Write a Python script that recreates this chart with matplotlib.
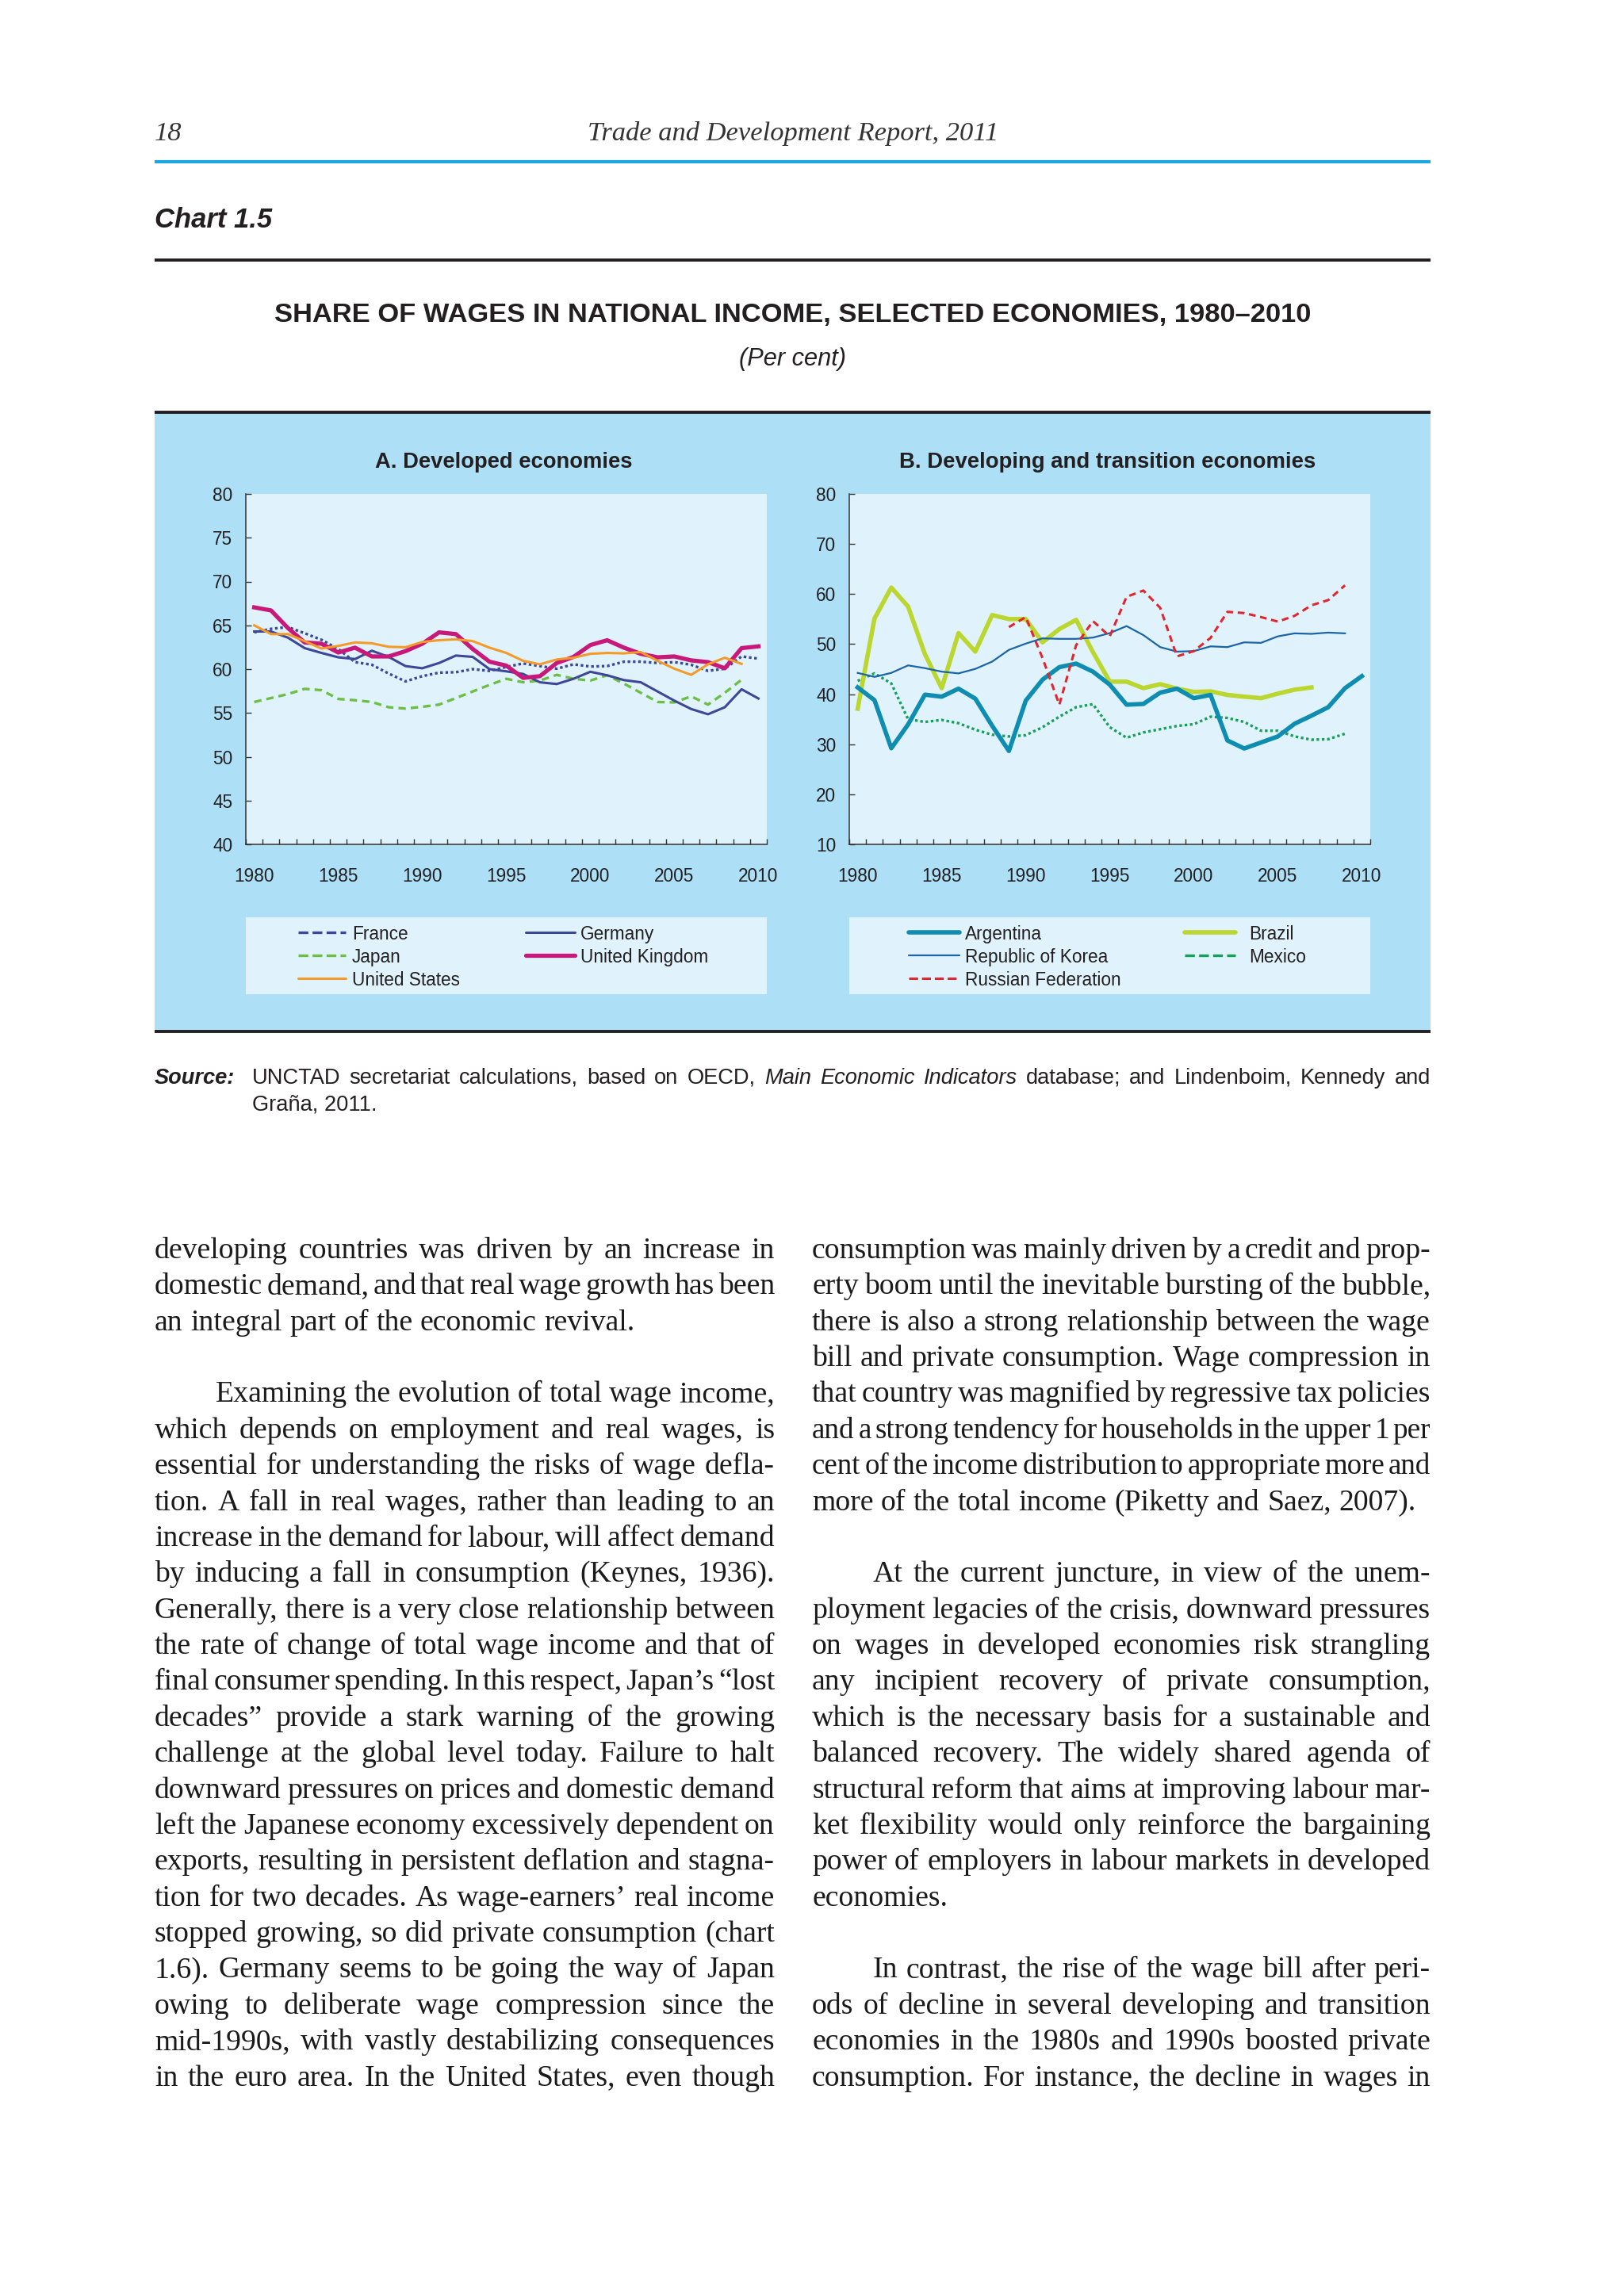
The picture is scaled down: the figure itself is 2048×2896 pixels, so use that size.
import matplotlib
matplotlib.use("Agg")
import matplotlib.pyplot as plt
from matplotlib.patches import Rectangle
from matplotlib.lines import Line2D
import numpy as np

# ---------------- data ----------------
years_full = list(range(1980, 2011))
years_to_2009 = list(range(1980, 2010))
years_to_2007 = list(range(1980, 2008))
years_russia = list(range(1989, 2010))

france = [64.2, 64.6, 64.8, 64.1, 63.35, 62.3, 60.8, 60.5, 59.5, 58.6, 59.2, 59.6, 59.65, 60.0, 59.8,
          60.25, 60.65, 60.35, 60.05, 60.55, 60.3, 60.35, 60.85, 60.85, 60.7, 60.8, 60.5, 59.8, 60.05,
          61.45, 61.2]
germany = [64.3, 64.3, 63.6, 62.4, 61.85, 61.35, 61.15, 62.1, 61.4, 60.35, 60.1, 60.7, 61.55, 61.4, 60.0,
           59.75, 59.45, 58.5, 58.3, 58.9, 59.7, 59.3, 58.75, 58.5, 57.45, 56.4, 55.45, 54.85, 55.65,
           57.7, 56.65]
japan = [56.25, 56.7, 57.15, 57.75, 57.6, 56.6, 56.45, 56.25, 55.65, 55.5, 55.7, 55.95, 56.7, 57.45, 58.2,
         58.9, 58.5, 58.7, 59.35, 58.9, 58.7, 59.3, 58.35, 57.3, 56.25, 56.2, 56.9, 55.95, 57.3, 58.8]
uk = [67.05, 66.7, 64.7, 63.05, 62.9, 61.9, 62.45, 61.45, 61.45, 62.05, 62.9, 64.2, 64.0, 62.3, 60.85,
      60.4, 59.0, 59.2, 60.7, 61.4, 62.75, 63.3, 62.45, 61.75, 61.35, 61.45, 61.0, 60.8, 60.1, 62.4, 62.6]
us = [65.0, 64.0, 64.0, 63.2, 62.35, 62.65, 63.05, 62.95, 62.55, 62.5, 63.1, 63.3, 63.4, 63.2, 62.45,
      61.85, 60.95, 60.55, 61.1, 61.3, 61.75, 61.85, 61.8, 61.95, 60.95, 60.05, 59.35, 60.55, 61.3, 60.6]

argentina = [41.35, 38.8, 29.2, 33.95, 39.9, 39.5, 41.1, 39.1, 33.7, 28.65, 38.7, 42.9, 45.4, 46.1, 44.5,
             41.9, 37.9, 38.05, 40.3, 41.1, 39.2, 39.85, 30.75, 29.15, 30.35, 31.55, 34.1, 35.7, 37.4,
             41.2, 43.6]
brazil = [37.1, 55.1, 61.3, 57.5, 48.0, 41.2, 52.2, 48.5, 55.8, 55.0, 55.0, 50.35, 53.0, 54.85, 48.4,
          42.5, 42.5, 41.2, 42.0, 41.1, 40.45, 40.55, 39.85, 39.5, 39.2, 40.1, 40.9, 41.35]
korea = [44.25, 43.45, 44.25, 45.75, 45.2, 44.5, 44.15, 45.05, 46.5, 48.85, 50.1, 51.15, 51.05, 51.05,
         51.3, 52.2, 53.6, 51.8, 49.4, 48.5, 48.6, 49.55, 49.4, 50.35, 50.25, 51.55, 52.15, 52.05, 52.3,
         52.15]
mexico = [42.65, 44.15, 42.15, 35.0, 34.45, 34.85, 34.2, 32.9, 31.9, 31.55, 31.8, 33.4, 35.5, 37.4, 38.0,
          33.4, 31.3, 32.35, 33.0, 33.65, 34.0, 35.5, 35.25, 34.45, 32.7, 32.7, 31.55, 30.9, 31.0, 32.1]
russia = [53.4, 55.4, 47.2, 37.9, 49.8, 54.6, 51.55, 59.45, 60.7, 57.25, 47.55, 48.6, 51.25, 56.45, 56.2,
          55.4, 54.5, 55.65, 57.75, 58.8, 61.75]

ticks_a = [40, 45, 50, 55, 60, 65, 70, 75, 80]
ticks_b = [10, 20, 30, 40, 50, 60, 70, 80]
year_labels = [1980, 1985, 1990, 1995, 2000, 2005, 2010]

# ---------------- figure helpers ----------------
W, H = 2048, 2896
DPI = 100
fig = plt.figure(figsize=(W / DPI, H / DPI), dpi=DPI)
fig.patch.set_facecolor("white")
renderer = fig.canvas.get_renderer()

SANS = "Liberation Sans"
SERIF = "Liberation Serif"
INK = "#231F20"
BOX = "#ADE0F7"
PLOT = "#E0F3FC"

LM, RM = 195, 1804  # page text block


def fx(x):
    return x / W


def fy(y):
    return 1 - y / H


def txt(x, y, s, **kw):
    kw.setdefault("color", INK)
    return fig.text(fx(x), fy(y), s, **kw)


def wid(t):
    return t.get_window_extent(renderer).width


def fit(x, y, s, width, **kw):
    t = txt(x, y, s, fontsize=20, **kw)
    w = wid(t)
    t.set_fontsize(20 * width / w)
    return t


def hline(x0, x1, y, lw, color):
    fig.add_artist(Line2D([fx(x0), fx(x1)], [fy(y), fy(y)], transform=fig.transFigure,
                          color=color, linewidth=lw, solid_capstyle="butt"))


# ---------------- page header ----------------
hdr = fit(1000, 177, "Trade and Development Report, 2011", 518, family=SERIF, style="italic",
          ha="center", va="baseline", color="#333333")
txt(LM, 177, "18", family=SERIF, style="italic", fontsize=hdr.get_fontsize(), ha="left",
    va="baseline", color="#333333")
hline(LM, RM, 204, 3.0, "#1BA7DF")

fit(LM, 287, "Chart 1.5", 148, family=SANS, weight="bold", style="italic", ha="left", va="baseline")
hline(LM, RM, 328, 2.8, "#231F20")
fit(1000, 406, "SHARE OF WAGES IN NATIONAL INCOME, SELECTED ECONOMIES, 1980\u20132010", 1307,
    family=SANS, weight="bold", ha="center", va="baseline")
fit(1000, 461, "(Per cent)", 135, family=SANS, style="italic", ha="center", va="baseline")

# blue chart box
BOX_TOP, BOX_BOT = 520, 1301
fig.add_artist(Rectangle((fx(LM), fy(BOX_BOT)), (RM - LM) / W, (BOX_BOT - BOX_TOP) / H,
                         transform=fig.transFigure, facecolor=BOX, edgecolor="none", zorder=-2))
hline(LM, RM, BOX_TOP, 2.8, "#231F20")
hline(LM, RM, BOX_BOT, 2.8, "#231F20")

TICK_FS = 16.3


def setup_axes(x0, x1, y0, y1, ylim, yticks):
    ax = fig.add_axes([fx(x0), fy(y1), (x1 - x0) / W, (y1 - y0) / H])
    ax.set_facecolor(PLOT)
    for s in ("top", "right"):
        ax.spines[s].set_visible(False)
    for s in ("left", "bottom"):
        ax.spines[s].set_color("#333333")
        ax.spines[s].set_linewidth(1.1)
    ax.set_xlim(1979.5, 2010.5)
    ax.set_ylim(*ylim)
    ax.set_xticks(year_labels)
    ax.set_xticklabels([str(v) for v in year_labels])
    ax.set_xticks(np.arange(1979.5, 2011.0, 1.0), minor=True)
    ax.set_yticks(yticks)
    ax.set_yticklabels([str(v) for v in yticks])
    ax.tick_params(axis="x", which="major", length=0, pad=21, labelsize=TICK_FS, labelcolor=INK)
    ax.tick_params(axis="x", which="minor", direction="in", length=5, width=1.0, color="#333333")
    ax.tick_params(axis="y", which="major", direction="in", length=5, width=1.0, color="#333333",
                   pad=12, labelsize=TICK_FS, labelcolor=INK)
    for lab in ax.get_xticklabels() + ax.get_yticklabels():
        lab.set_family(SANS)
    return ax


AX_TOP, AX_BOT = 623, 1065
axA = setup_axes(310, 967, AX_TOP, AX_BOT, (40, 80), ticks_a)
axB = setup_axes(1071, 1728, AX_TOP, AX_BOT, (10, 80), ticks_b)

fit(635, 590, "A. Developed economies", 324, family=SANS, weight="bold", ha="center", va="baseline")
fit(1397, 590, "B. Developing and transition economies", 524, family=SANS, weight="bold",
    ha="center", va="baseline")

# ---------------- series ----------------
DOT = (0, (1.0, 1.0))
DASH = (0, (2.8, 1.9))
lA = {}
lA["France"], = axA.plot(years_full, france, color="#3B479B", lw=2.4, linestyle=DOT,
                         dash_capstyle="butt", zorder=3)
lA["Japan"], = axA.plot(years_to_2009, japan, color="#6CBE45", lw=2.4, linestyle=DASH, zorder=3)
lA["Germany"], = axA.plot(years_full, germany, color="#3D4797", lw=2.2, zorder=3)
lA["United Kingdom"], = axA.plot(years_full, uk, color="#C8197A", lw=3.8, zorder=4)
lA["United States"], = axA.plot(years_to_2009, us, color="#F39A2B", lw=2.2, zorder=5)

lB = {}
lB["Mexico"], = axB.plot(years_to_2009, mexico, color="#16A05A", lw=2.4, linestyle=DOT,
                         dash_capstyle="butt", zorder=3)
lB["Brazil"], = axB.plot(years_to_2007, brazil, color="#BCD630", lw=4.0, zorder=3)
lB["Republic of Korea"], = axB.plot(years_to_2009, korea, color="#1C64A8", lw=1.6, zorder=4)
lB["Argentina"], = axB.plot(years_full, argentina, color="#0F8DB0", lw=4.0, zorder=4)
lB["Russian Federation"], = axB.plot(years_russia, russia, color="#E0262F", lw=2.2,
                                     linestyle=DASH, zorder=5)

# ---------------- legends ----------------
ROWS = [1176, 1205, 1234]
LEG_TOP, LEG_BOT = 1157, 1254


def legend_box(x0, x1, entries):
    fig.add_artist(Rectangle((fx(x0), fy(LEG_BOT)), (x1 - x0) / W, (LEG_BOT - LEG_TOP) / H,
                             transform=fig.transFigure, facecolor=PLOT, edgecolor="none", zorder=-1))
    for (hx0, hx1, tx, row, line, label) in entries:
        y = ROWS[row]
        fig.add_artist(Line2D([fx(hx0), fx(hx1)], [fy(y), fy(y)], transform=fig.transFigure,
                              color=line.get_color(), linewidth=line.get_linewidth(),
                              linestyle=line.get_linestyle(), dash_capstyle="butt",
                              solid_capstyle="round"))
        txt(tx, y, label, family=SANS, fontsize=TICK_FS, ha="left", va="center_baseline")


legend_box(310, 967, [
    (376, 436, 444, 0, lA["France"], "France"),
    (376, 436, 444, 1, lA["Japan"], "Japan"),
    (376, 436, 444, 2, lA["United States"], "United States"),
    (663, 725, 732, 0, lA["Germany"], "Germany"),
    (663, 725, 732, 1, lA["United Kingdom"], "United Kingdom"),
])
legend_box(1071, 1728, [
    (1146, 1210, 1217, 0, lB["Argentina"], "Argentina"),
    (1146, 1210, 1217, 1, lB["Republic of Korea"], "Republic of Korea"),
    (1146, 1210, 1217, 2, lB["Russian Federation"], "Russian Federation"),
    (1494, 1558, 1575, 0, lB["Brazil"], "Brazil"),
    (1494, 1558, 1575, 1, lB["Mexico"], "Mexico"),
])

# ---------------- justified text helper ----------------


def space_w(size, props):
    a = txt(0, 0, "x x", fontsize=size, **props)
    b = txt(0, 0, "xx", fontsize=size, **props)
    s = wid(a) - wid(b)
    a.remove()
    b.remove()
    return s


def place_line(tokens, x0, x1, y, size, justify=True):
    texts, widths = [], []
    for word, props in tokens:
        t = txt(x0, y, word, fontsize=size, ha="left", va="baseline", **props)
        texts.append(t)
        widths.append(wid(t))
    sp = space_w(size, tokens[0][1])
    n = len(tokens)
    total = sum(widths)
    if justify and n > 1:
        gap = (x1 - x0 - total) / (n - 1)
        if gap < 0.5 * sp:
            scale = (x1 - x0 - 0.5 * sp * (n - 1)) / total
            for t in texts:
                t.set_fontsize(size * scale)
            widths = [w * scale for w in widths]
            gap = (x1 - x0 - sum(widths)) / (n - 1)
    else:
        gap = sp
    x = x0
    for t, w in zip(texts, widths):
        t.set_x(fx(x))
        x += w + gap


# ---------------- source ----------------
tmp = fit(0, 0, "Gra\u00f1a, 2011.", 157, family=SANS)
SRC_FS = tmp.get_fontsize()
tmp.remove()
txt(LM, 1367, "Source:", family=SANS, weight="bold", style="italic", fontsize=SRC_FS, va="baseline")
reg = {"family": SANS}
ita = {"family": SANS, "style": "italic"}
src_tokens = [(w, reg) for w in "UNCTAD secretariat calculations, based on OECD,".split()]
src_tokens += [(w, ita) for w in "Main Economic Indicators".split()]
src_tokens += [(w, reg) for w in "database; and Lindenboim, Kennedy and".split()]
place_line(src_tokens, 318, RM, 1367, SRC_FS, justify=True)
txt(318, 1401, "Gra\u00f1a, 2011.", family=SANS, fontsize=SRC_FS, va="baseline")

# ---------------- body text ----------------
left_col = [
    ("developing countries was driven by an increase in", ""),
    ("domestic demand, and that real wage growth has been", ""),
    ("an integral part of the economic revival.", "l"),
    None,
    ("Examining the evolution of total wage income,", "i"),
    ("which depends on employment and real wages, is", ""),
    ("essential for understanding the risks of wage defla-", ""),
    ("tion. A fall in real wages, rather than leading to an", ""),
    ("increase in the demand for labour, will affect demand", ""),
    ("by inducing a fall in consumption (Keynes, 1936).", ""),
    ("Generally, there is a very close relationship between", ""),
    ("the rate of change of total wage income and that of", ""),
    ("final consumer spending. In this respect, Japan\u2019s \u201clost", ""),
    ("decades\u201d provide a stark warning of the growing", ""),
    ("challenge at the global level today. Failure to halt", ""),
    ("downward pressures on prices and domestic demand", ""),
    ("left the Japanese economy excessively dependent on", ""),
    ("exports, resulting in persistent deflation and stagna-", ""),
    ("tion for two decades. As wage-earners\u2019 real income", ""),
    ("stopped growing, so did private consumption (chart", ""),
    ("1.6). Germany seems to be going the way of Japan", ""),
    ("owing to deliberate wage compression since the", ""),
    ("mid-1990s, with vastly destabilizing consequences", ""),
    ("in the euro area. In the United States, even though", ""),
]
right_col = [
    ("consumption was mainly driven by a credit and prop-", ""),
    ("erty boom until the inevitable bursting of the bubble,", ""),
    ("there is also a strong relationship between the wage", ""),
    ("bill and private consumption. Wage compression in", ""),
    ("that country was magnified by regressive tax policies", ""),
    ("and a strong tendency for households in the upper 1 per", ""),
    ("cent of the income distribution to appropriate more and", ""),
    ("more of the total income (Piketty and Saez, 2007).", "l"),
    None,
    ("At the current juncture, in view of the unem-", "i"),
    ("ployment legacies of the crisis, downward pressures", ""),
    ("on wages in developed economies risk strangling", ""),
    ("any incipient recovery of private consumption,", ""),
    ("which is the necessary basis for a sustainable and", ""),
    ("balanced recovery. The widely shared agenda of", ""),
    ("structural reform that aims at improving labour mar-", ""),
    ("ket flexibility would only reinforce the bargaining", ""),
    ("power of employers in labour markets in developed", ""),
    ("economies.", "l"),
    None,
    ("In contrast, the rise of the wage bill after peri-", "i"),
    ("ods of decline in several developing and transition", ""),
    ("economies in the 1980s and 1990s boosted private", ""),
    ("consumption. For instance, the decline in wages in", ""),
]

body = {"family": SERIF, "color": "#1A1A1A"}
bt = fit(0, 0, "an integral part of the economic revival.", 605, **body)
BODY_FS = bt.get_fontsize()
bt.remove()

BASE0 = 1587
LEAD = 45.37
INDENT = 77


def draw_column(lines, x0, x1):
    for k, item in enumerate(lines):
        if item is None:
            continue
        s, flag = item
        y = BASE0 + k * LEAD
        xs = x0 + (INDENT if flag == "i" else 0)
        toks = [(w, body) for w in s.split()]
        place_line(toks, xs, x1, y, BODY_FS, justify=(flag != "l"))


draw_column(left_col, LM, 977)
draw_column(right_col, 1024, RM)

fig.savefig("out.png", dpi=DPI, facecolor="white")
